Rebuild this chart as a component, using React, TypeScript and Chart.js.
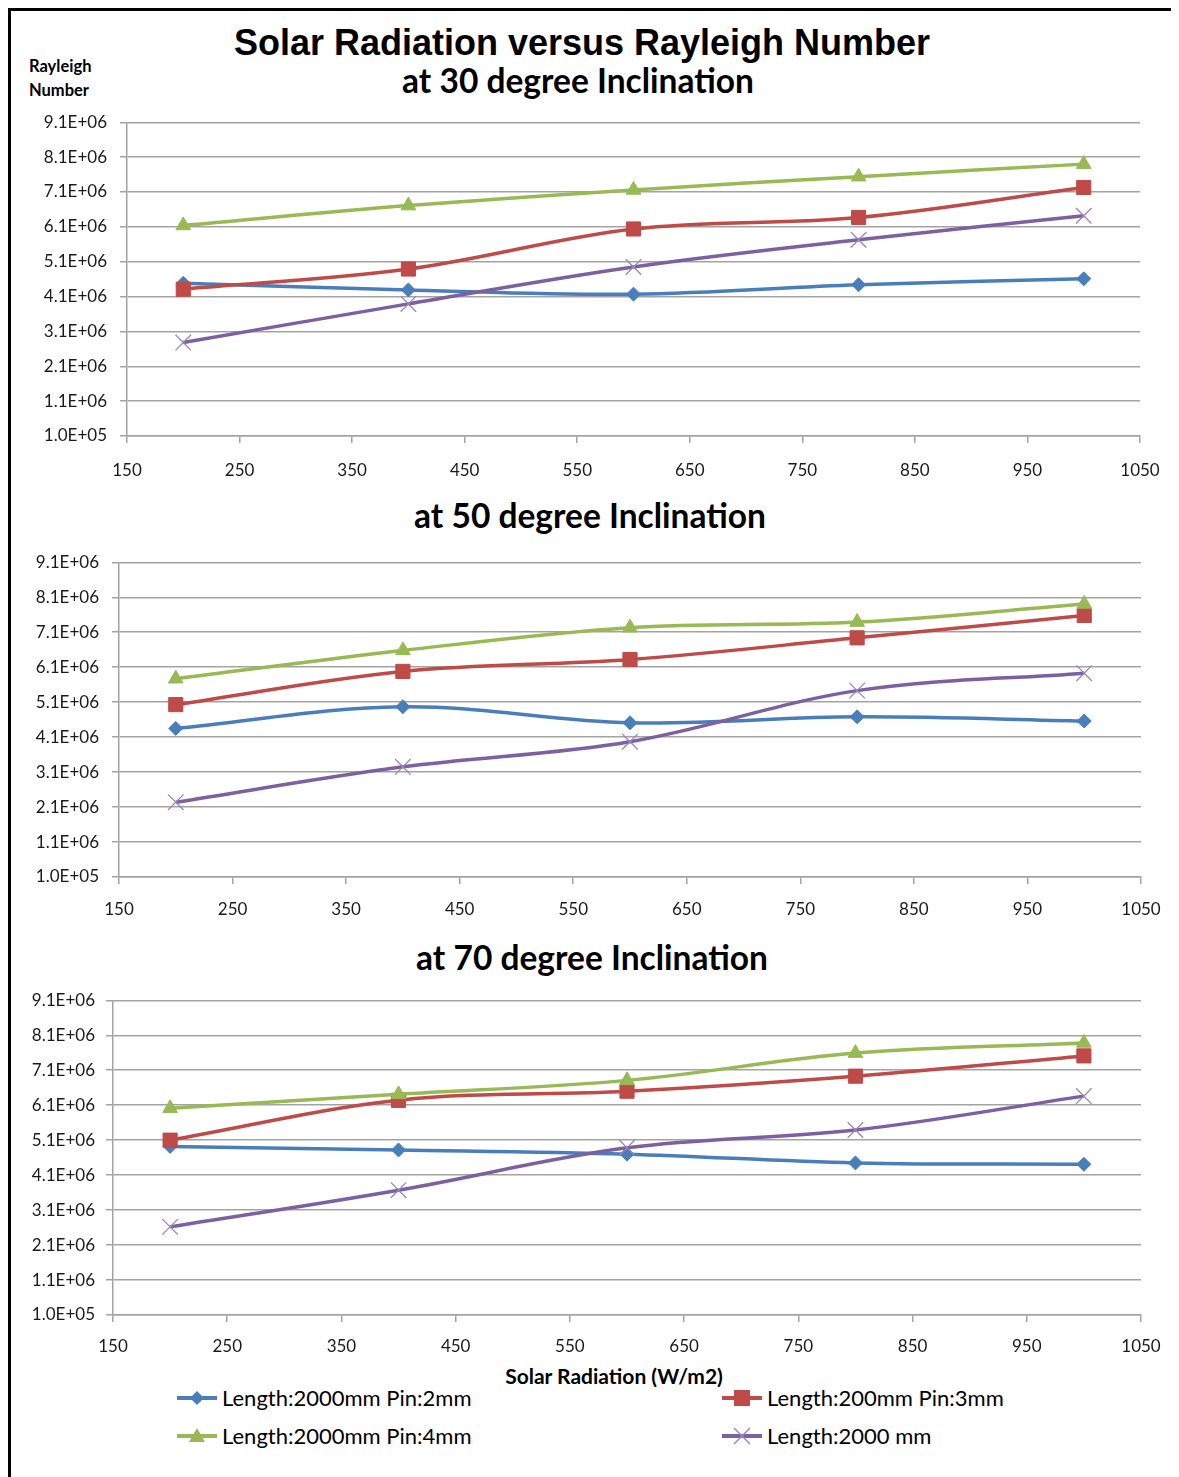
import React, { useEffect, useRef } from 'react';
import { Chart, registerables } from 'chart.js';

Chart.register(...registerables);

// ---------- data ----------
const xValues = [200, 400, 600, 800, 1000];
const xTicks = [150, 250, 350, 450, 550, 650, 750, 850, 950, 1050];
const yTicks = [1.0e5, 1.1e6, 2.1e6, 3.1e6, 4.1e6, 5.1e6, 6.1e6, 7.1e6, 8.1e6, 9.1e6];

const seriesNames = [
  'Length:2000mm Pin:2mm',
  'Length:200mm Pin:3mm',
  'Length:2000mm Pin:4mm',
  'Length:2000 mm',
];

// 30 degree inclination
const blue30 = [4.48e6, 4.29e6, 4.17e6, 4.44e6, 4.61e6];
const red30 = [4.31e6, 4.89e6, 6.04e6, 6.37e6, 7.23e6];
const green30 = [6.14e6, 6.71e6, 7.16e6, 7.54e6, 7.9e6];
const purple30 = [2.78e6, 3.89e6, 4.95e6, 5.73e6, 6.42e6];

// 50 degree inclination
const blue50 = [4.35e6, 4.97e6, 4.51e6, 4.68e6, 4.56e6];
const red50 = [5.03e6, 5.98e6, 6.32e6, 6.94e6, 7.58e6];
const green50 = [5.77e6, 6.58e6, 7.23e6, 7.39e6, 7.91e6];
const purple50 = [2.24e6, 3.25e6, 3.97e6, 5.43e6, 5.93e6];

// 70 degree inclination
const blue70 = [4.92e6, 4.82e6, 4.7e6, 4.45e6, 4.41e6];
const red70 = [5.1e6, 6.24e6, 6.5e6, 6.93e6, 7.51e6];
const green70 = [6.01e6, 6.41e6, 6.81e6, 7.59e6, 7.88e6];
const purple70 = [2.62e6, 3.67e6, 4.88e6, 5.39e6, 6.36e6];

const mainTitle = 'Solar Radiation versus Rayleigh Number';
const panelTitles = ['at 30 degree Inclination', 'at 50 degree Inclination', 'at 70 degree Inclination'];
const yAxisTitle = ['Rayleigh', 'Number'];
const xAxisTitle = 'Solar Radiation (W/m2)';

// ---------- styles ----------
const colors = ['#4A7EBB', '#BE4B48', '#98B954', '#7D60A0'];
const markerColors = ['#4A7EBB', '#BE4B48', '#98B954', '#9A85BD'];
const pointStyles = ['rectRot', 'rect', 'triangle', 'crossRot'];
const pointRadii = [7, 10, 8.5, 11];
const GRID = '#a3a3a3';
const TICK_COLOR = '#1a1a1a';
const CAL = 'Lato, "Open Sans", sans-serif';

function fmtE(v: number): string {
  const [m, e] = v.toExponential(1).split('e');
  const n = parseInt(e, 10);
  return m + 'E' + (n < 0 ? '-' : '+') + String(Math.abs(n)).padStart(2, '0');
}

type Geo = {
  left: number; top: number; width: number; height: number;
  yAxisW: number; xAxisH: number; padTop: number; padRight: number;
  yPad: number; xPad: number;
};

function zeroPad(s: any) {
  s.paddingTop = 0;
  s.paddingBottom = 0;
  s.paddingLeft = 0;
  s.paddingRight = 0;
}

function Panel({ series, geo }: { series: number[][]; geo: Geo }) {
  const ref = useRef<HTMLCanvasElement | null>(null);
  useEffect(() => {
    if (!ref.current) return;
    const chart = new Chart(ref.current, {
      type: 'line',
      data: {
        datasets: series.map((vals, i) => ({
          label: seriesNames[i],
          data: xValues.map((x, j) => ({ x, y: vals[j] })),
          borderColor: colors[i],
          backgroundColor: markerColors[i],
          borderWidth: 3.5,
          pointStyle: pointStyles[i] as any,
          pointRadius: pointRadii[i],
          pointBackgroundColor: markerColors[i],
          pointBorderColor: markerColors[i],
          pointBorderWidth: i === 3 ? 1.3 : 1,
          tension: 0.35,
          order: 4 - i,
        })),
      },
      options: {
        responsive: false,
        maintainAspectRatio: false,
        animation: false,
        layout: { padding: { top: geo.padTop, right: geo.padRight, left: 0, bottom: 0 } },
        plugins: {
          legend: { display: false },
          tooltip: { enabled: false },
          title: { display: false },
        },
        scales: {
          x: {
            type: 'linear',
            min: 150,
            max: 1050,
            afterBuildTicks: (s: any) => { s.ticks = xTicks.map((v) => ({ value: v })); },
            afterFit: (s: any) => { s.height = geo.xAxisH; zeroPad(s); },
            grid: { drawOnChartArea: false, drawTicks: true, tickLength: 7, color: GRID, lineWidth: 1.5 },
            border: { color: GRID, width: 1.5 },
            ticks: {
              autoSkip: false, maxRotation: 0, padding: geo.xPad, color: TICK_COLOR,
              font: { family: CAL, size: 17 },
              callback: (v: any) => String(v),
            },
          },
          y: {
            type: 'linear',
            min: 1.0e5,
            max: 9.1e6,
            afterBuildTicks: (s: any) => { s.ticks = yTicks.map((v) => ({ value: v })); },
            afterFit: (s: any) => { s.width = geo.yAxisW; zeroPad(s); },
            grid: { drawTicks: true, tickLength: 7, color: GRID, lineWidth: 1.5 },
            border: { color: GRID, width: 1.5 },
            ticks: {
              autoSkip: false, padding: geo.yPad, color: TICK_COLOR,
              font: { family: CAL, size: 17 },
              callback: (v: any) => fmtE(Number(v)),
            },
          },
        },
      },
    } as any);
    return () => chart.destroy();
  }, []);
  return (
    <canvas
      ref={ref}
      width={geo.width}
      height={geo.height}
      style={{ position: 'absolute', left: geo.left, top: geo.top, width: geo.width, height: geo.height, display: 'block' }}
    />
  );
}

function Label({ text, x, y, size, family, weight = 700, align = 'center' }: any) {
  return (
    <div
      style={{
        position: 'absolute', left: x, top: y, whiteSpace: 'nowrap', lineHeight: 1,
        fontSize: size, fontFamily: family, fontWeight: weight, color: '#000',
        transform: align === 'center' ? 'translate(-50%,-50%)' : 'translate(0,-50%)',
      }}
    >
      {text}
    </div>
  );
}

function Marker({ i }: { i: number }) {
  const c = markerColors[i];
  let m: any = null;
  if (i === 0) m = <polygon points="20,3 27,10 20,17 13,10" fill={c} />;
  if (i === 1) m = <rect x={12} y={2} width={16} height={16} fill={c} />;
  if (i === 2) m = <polygon points="20,2 28,16 12,16" fill={c} />;
  if (i === 3)
    m = (
      <g stroke={c} strokeWidth={1.5}>
        <line x1={12} y1={2} x2={28} y2={18} />
        <line x1={28} y1={2} x2={12} y2={18} />
      </g>
    );
  return (
    <svg width={40} height={20} style={{ display: 'block' }}>
      <line x1={0} y1={10} x2={40} y2={10} stroke={colors[i]} strokeWidth={4} />
      {m}
    </svg>
  );
}

function LegendItem({ i, x, y }: { i: number; x: number; y: number }) {
  return (
    <div style={{ position: 'absolute', left: x, top: y, transform: 'translate(0,-50%)', display: 'flex', alignItems: 'center' }}>
      <Marker i={i} />
      <span style={{ marginLeft: 5, fontFamily: CAL, fontSize: 22, lineHeight: 1, color: '#000', whiteSpace: 'nowrap' }}>
        {seriesNames[i]}
      </span>
    </div>
  );
}

// page coordinate -> container coordinate
const P = (v: number) => v - 8;

export default function App() {
  const geos: Geo[] = [
    { left: P(20), top: P(110), width: 1140, height: 380, yAxisW: 107, xAxisH: 54, padTop: 12, padRight: 20, yPad: 13, xPad: 17 },
    { left: P(20), top: P(550), width: 1143, height: 380, yAxisW: 99, xAxisH: 53, padTop: 12, padRight: 22, yPad: 13, xPad: 15 },
    { left: P(20), top: P(988), width: 1143, height: 377, yAxisW: 93, xAxisH: 50, padTop: 12, padRight: 22, yPad: 11, xPad: 14 },
  ];
  const panels = [
    [blue30, red30, green30, purple30],
    [blue50, red50, green50, purple50],
    [blue70, red70, green70, purple70],
  ];
  return (
    <div style={{ position: 'relative', width: 1171, height: 1469, background: '#fff', overflow: 'hidden' }}>
      <div style={{ position: 'absolute', left: 0, top: 0, width: 1171, height: 1469, borderTop: '3px solid #000', borderLeft: '3px solid #000', boxSizing: 'border-box' }} />
      <Label text={mainTitle} x={P(582)} y={P(43)} size={36} family='"Liberation Sans", Arial, sans-serif' />
      <Label text={panelTitles[0]} x={P(578)} y={P(81)} size={33.5} family={CAL} />
      <Label text={panelTitles[1]} x={P(590)} y={P(516)} size={33.5} family={CAL} />
      <Label text={panelTitles[2]} x={P(592)} y={P(958)} size={33.5} family={CAL} />
      <Label text={yAxisTitle[0]} x={P(29)} y={P(66)} size={16.5} family={CAL} align="left" />
      <Label text={yAxisTitle[1]} x={P(29)} y={P(90)} size={16.5} family={CAL} align="left" />
      <Label text={xAxisTitle} x={P(614)} y={P(1375)} size={21} family={CAL} />
      {panels.map((s, k) => (
        <Panel key={k} series={s} geo={geos[k]} />
      ))}
      <LegendItem i={0} x={P(177)} y={P(1398)} />
      <LegendItem i={1} x={P(722)} y={P(1398)} />
      <LegendItem i={2} x={P(177)} y={P(1436)} />
      <LegendItem i={3} x={P(722)} y={P(1436)} />
    </div>
  );
}
